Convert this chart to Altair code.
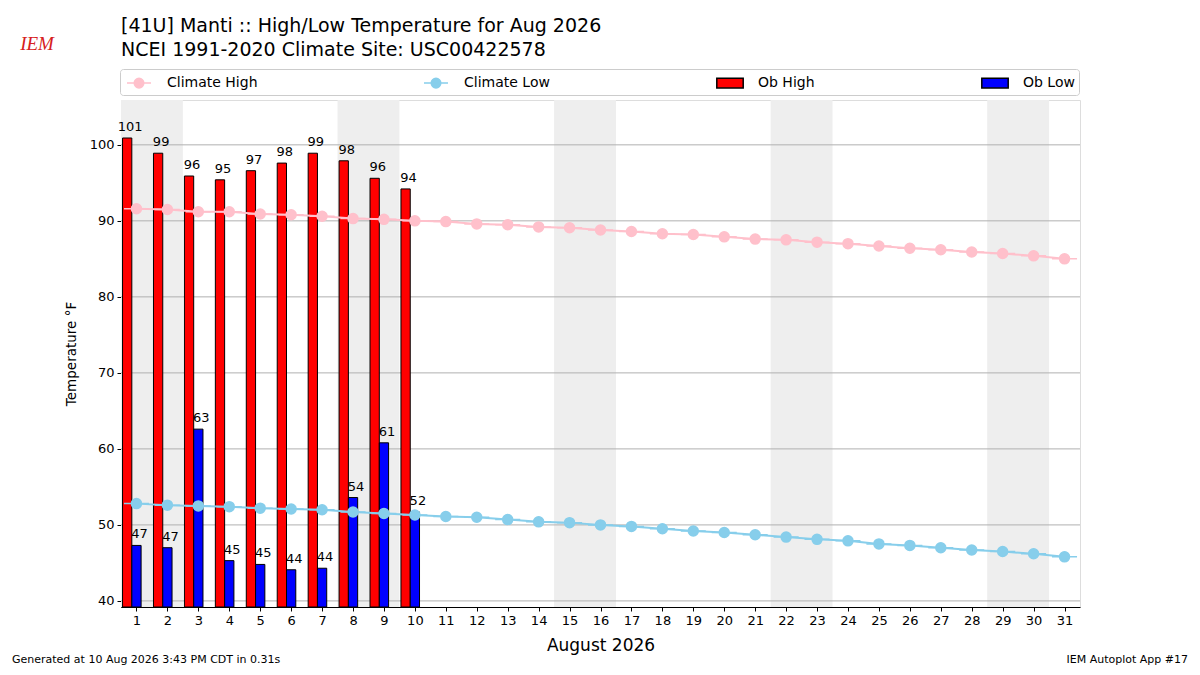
import altair as alt
import pandas as pd

FONT = "DejaVu Sans"

days = list(range(1, 32))
obs_days = list(range(1, 11))
ob_high = [100.9, 98.9, 95.9, 95.4, 96.6, 97.6, 98.9, 97.9, 95.6, 94.2]
ob_low = [47.3, 47.0, 62.6, 45.3, 44.8, 44.1, 44.3, 53.6, 60.8, 51.7]
clim_high = [91.6, 91.5, 91.2, 91.2, 90.9, 90.8, 90.6, 90.3, 90.2, 90.0,
             89.9, 89.6, 89.5, 89.2, 89.1, 88.8, 88.6, 88.3, 88.2, 87.9,
             87.6, 87.5, 87.2, 87.0, 86.7, 86.4, 86.2, 85.9, 85.7, 85.4, 85.0]
clim_low = [52.8, 52.6, 52.5, 52.4, 52.2, 52.1, 52.0, 51.7, 51.5, 51.3,
            51.1, 51.0, 50.7, 50.4, 50.3, 50.0, 49.8, 49.5, 49.2, 49.0,
            48.7, 48.4, 48.1, 47.9, 47.5, 47.3, 47.0, 46.7, 46.5, 46.2, 45.8]
weekend_start = [1, 8, 15, 22, 29]
y_ticks = [40, 50, 60, 70, 80, 90, 100]
y_limits = [39.2, 105.9]
x_limits = [0.5, 31.5]
series_names = ["Climate High", "Climate Low", "Ob High", "Ob Low"]
series_fill = ["#ffc0cb", "#87ceeb", "#ff0000", "#0000ff"]
series_stroke = ["#ffc0cb", "#87ceeb", "#000000", "#000000"]
LINE_DOT = ("M-1.333,0H1.333M-0.533,0A0.533,0.533 0 1,0 0.533,0"
            "A0.533,0.533 0 1,0 -0.533,0")
BOX = "M-1.467,-0.533H1.467V0.533H-1.467Z"
series_shape = [LINE_DOT, LINE_DOT, BOX, BOX]

title_lines = ["[41U] Manti :: High/Low Temperature for Aug 2026",
               "NCEI 1991-2020 Climate Site: USC00422578"]
footer_left = "Generated at 10 Aug 2026 3:43 PM CDT in 0.31s"
footer_right = "IEM Autoplot App #17"

W, H = 959, 507

obs_df = pd.DataFrame({
    "day": obs_days * 2,
    "series": ["Ob High"] * len(obs_days) + ["Ob Low"] * len(obs_days),
    "value": ob_high + ob_low,
})
clim_df = pd.DataFrame({
    "day": days * 2,
    "series": ["Climate High"] * len(days) + ["Climate Low"] * len(days),
    "value": clim_high + clim_low,
})
wk_df = pd.DataFrame({"start": weekend_start})
grid_df = pd.DataFrame({"t": y_ticks})

xscale = alt.Scale(domain=x_limits, nice=False, zero=False)
yscale = alt.Scale(domain=y_limits, nice=False, zero=False)

legend = alt.Legend(
    title=None, orient="none", legendX=-1, legendY=-31,
    direction="horizontal", columns=4, columnPadding=163,
    labelFont=FONT, labelFontSize=14, labelColor="black",
    symbolSize=324, symbolStrokeWidth=1.5, symbolOpacity=1, symbolOffset=5,
    strokeColor="#cccccc", cornerRadius=3, padding=4,
    labelOffset=18, fillColor="white",
)
fill = alt.Fill("series:N", scale=alt.Scale(domain=series_names, range=series_fill), legend=legend)
stroke = alt.Stroke("series:N", scale=alt.Scale(domain=series_names, range=series_stroke), legend=legend)
shape = alt.Shape("series:N", scale=alt.Scale(domain=series_names, range=series_shape), legend=legend)

xaxis = alt.Axis(values=days, format="d", grid=False, tickSize=4, tickColor="black",
                 domainColor="black", labelFont=FONT, labelFontSize=13, labelColor="black",
                 labelPadding=3, labelOverlap=False, title="August 2026", titleFont=FONT,
                 titleFontSize=17, titleFontWeight="normal", titleColor="black",
                 titlePadding=10, labelFlush=False)
yaxis = alt.Axis(values=y_ticks, grid=False, tickSize=4, tickColor="black",
                 domainColor="black", labelFont=FONT, labelFontSize=13, labelColor="black",
                 labelPadding=3, labelOverlap=False, title="Temperature °F", titleFont=FONT,
                 titleFontSize=13.5, titleFontWeight="normal", titleColor="black", titlePadding=11)


def X(field):
    return alt.X(field, scale=xscale, axis=xaxis)


def Y(field):
    return alt.Y(field, scale=yscale, axis=yaxis)


bands = alt.Chart(wk_df).transform_calculate(
    a="datum.start - 0.5", b="datum.start + 1.5",
    lo=str(y_limits[0]), hi=str(y_limits[1]),
).mark_rect(color="#eeeeee").encode(
    x=X("a:Q"), x2="b:Q", y=Y("lo:Q"), y2="hi:Q",
)

grid = alt.Chart(grid_df).mark_rule(color="#b0b0b0", strokeWidth=1).encode(
    y=Y("t:Q")
)

bar_base = alt.Chart(obs_df).transform_calculate(
    x0="datum.series == 'Ob High' ? datum.day - 0.45 : datum.day - 0.15",
    x1="datum.series == 'Ob High' ? datum.day - 0.15 : datum.day + 0.15",
    xc="datum.series == 'Ob High' ? datum.day - 0.3 : datum.day",
    base=str(y_limits[0]),
    lab="format(datum.value, '.0f')",
)
bars = bar_base.mark_bar(strokeWidth=1, opacity=1).encode(
    x=X("x0:Q"), x2="x1:Q", y=Y("value:Q"), y2="base:Q",
    fill=fill, stroke=stroke,
)
labels = bar_base.mark_text(font=FONT, fontSize=13, color="black", baseline="alphabetic",
                            align="center", dy=-7, dx=3).encode(
    x=X("xc:Q"), y=Y("value:Q"), text="lab:N",
)

clim_lines = alt.Chart(clim_df).mark_line(strokeWidth=2).encode(
    x=X("day:Q"), y=Y("value:Q"), stroke=stroke, detail="series:N",
)
clim_pts = alt.Chart(clim_df).mark_point(filled=True, size=352, opacity=1, strokeWidth=1.5).encode(
    x=X("day:Q"), y=Y("value:Q"), fill=fill, stroke=stroke, shape=shape,
)

foot_df = pd.DataFrame({"t": [footer_left]})
foot_l = alt.Chart(foot_df).mark_text(font=FONT, fontSize=11, color="black", align="left",
                                      baseline="middle").encode(
    text="t:N", x=alt.value(-109), y=alt.value(560))
foot_df2 = pd.DataFrame({"t": [footer_right]})
foot_r = alt.Chart(foot_df2).mark_text(font=FONT, fontSize=11, color="black", align="right",
                                       baseline="middle").encode(
    text="t:N", x=alt.value(1067), y=alt.value(560))
logo_df = pd.DataFrame({"t": ["IEM"]})
logo = alt.Chart(logo_df).mark_text(font="Liberation Serif", fontSize=19, fontStyle="italic",
                                    color="#d62020", align="center", baseline="middle").encode(
    text="t:N", x=alt.value(-84), y=alt.value(-56))

chart = alt.layer(bands, grid, bars, labels, clim_lines, clim_pts, foot_l, foot_r, logo).properties(
    width=W, height=H,
    title=alt.Title(title_lines, anchor="start", frame="group", fontSize=19, font=FONT,
                    fontWeight="normal", color="black", lineHeight=24, offset=-25),
    autosize=alt.AutoSizeParams(type="none"),
    padding={"left": 113, "top": 92, "right": 112, "bottom": 60},
).configure_view(stroke="black", strokeWidth=1).configure_axis(
    labelOverlap=False
).configure(background="white")

chart.save("out.html", embed_options={"renderer": "svg", "actions": False})
